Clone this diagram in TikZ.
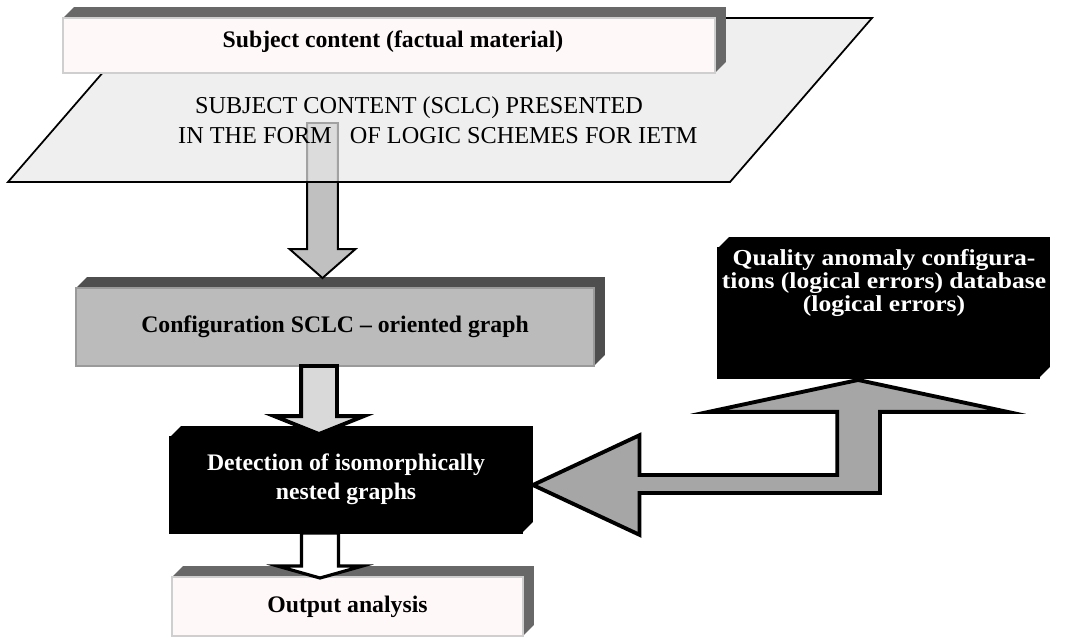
\documentclass[tikz,border=0pt]{standalone}
\usepackage{fontspec}
\setmainfont{Liberation Serif}
\newfontfamily\wideserif{Liberation Serif}[FakeStretch=1.12]
\usetikzlibrary{calc}

\newcommand{\pxl}{0.5669pt}
\definecolor{paperpink}{HTML}{FFF8F8}
\definecolor{rimgray}{HTML}{CFCFCF}
\definecolor{bandgray}{HTML}{686868}
\definecolor{confgray}{HTML}{BBBBBB}
\definecolor{confrim}{HTML}{9A9A9A}
\definecolor{confband}{HTML}{4E4E4E}
\definecolor{paragray}{HTML}{E8E8E8}
\definecolor{shaftone}{HTML}{C0C0C0}
\definecolor{shafttwo}{HTML}{D9D9D9}
\definecolor{bentgray}{HTML}{A6A6A6}

% depth of a 3D box: top band and right side, then the front rim again
\newcommand{\cubeside}[3]{%
  \fill[#2] (#1.north west) -- ++(11,-11) -- ([shift={(11,-11)}]#1.north east)
    -- ([shift={(11,-11)}]#1.south east) -- (#1.south east) -- (#1.north east) -- cycle;
  \draw[#3, line width=1.2pt] (#1.south west) rectangle (#1.north east);}

\begin{document}
\begin{tikzpicture}[x=0.02cm, y=-0.02cm,
  face/.style={rectangle, inner sep=0pt, outer sep=0pt, align=center,
    font=\fontsize{13.5}{16.5}\selectfont\bfseries},
  paleface/.style={face, fill=paperpink},
  greyface/.style={face, fill=confgray},
  blackface/.style={face, fill=black, text=white},
  downblock/.style n args={3}{to path={let \p1=(\tikztostart), \p2=(\tikztotarget) in
    (\x2-#1*\pxl,\y1) -- (\x2+#1*\pxl,\y1) -- (\x2+#1*\pxl,\y2+#3*\pxl)
    -- (\x2+#2*\pxl,\y2+#3*\pxl) -- (\p2) -- (\x2-#2*\pxl,\y2+#3*\pxl)
    -- (\x2-#1*\pxl,\y2+#3*\pxl) -- cycle}}]
  \useasboundingbox (0,0) rectangle (1070,637);

  % Database box
  \node[blackface, minimum width=6.42cm, minimum height=2.6cm] (qual) at (878.5,313) {};
  \cubeside{qual}{black}{black}
  \node[font=\wideserif\bfseries\fontsize{13}{11.6}\selectfont, text=white, align=center]
    (qual-text) at (884,283) {Quality anomaly configura-\\tions (logical errors) database\\(logical errors)};

  % Graph configuration
  \node[greyface, minimum width=10.36cm, minimum height=1.56cm] (conf) at (335,327)
    {Configuration SCLC – oriented graph};
  \cubeside{conf}{confband}{confrim}

  % Detection
  \node[blackface, minimum width=7.04cm, minimum height=1.92cm] (det) at (346,485) {};
  \cubeside{det}{black}{black}
  \node[face, text=white] (det-text) at (346,479) {Detection of isomorphically\\nested graphs};

  % Output
  \node[paleface, minimum width=7.02cm, minimum height=1.18cm] (out) at (347.5,606.5)
    {Output analysis};
  \cubeside{out}{bandgray}{rimgray}

  % Arrow under the scheme sheet
  \coordinate (a1-tail) at (322.5,123);
  \coordinate (a1-tip) at (322.5,278);
  \draw[line width=1.1pt, fill=shaftone, downblock={15.5}{33}{29}] (a1-tail) to (a1-tip);

  % Scheme sheet (parallelogram)
  \filldraw[line width=1pt, fill=paragray, fill opacity=0.7]
    (8,182) -- (730,182) -- (872,18) -- (150,18) -- cycle;

  % Subject content
  \node[paleface, minimum width=13.04cm, minimum height=1.1cm] (subj) at (389,45.5) {};
  \cubeside{subj}{bandgray}{rimgray}
  \node[face] (subj-text) at (393,42) {Subject content (factual material)};

  \node[font=\fontsize{13.8}{17}\selectfont, align=center] (para) at (419,120)
    {SUBJECT CONTENT (SCLC) PRESENTED\\\hspace*{21.5pt}IN THE FORM\ \ \ OF LOGIC SCHEMES FOR IETM};

  % Down arrows
  \coordinate (a2-tail) at (319,366);
  \coordinate (a2-tip) at (319,434);
  \draw[line width=2.2pt, fill=shafttwo, downblock={18}{45}{18}] (a2-tail) to (a2-tip);
  \coordinate (a3-tail) at (320,533);
  \coordinate (a3-tip) at (320,578);
  \draw[line width=1.8pt, fill=white, downblock={18.5}{42.5}{12}] (a3-tail) to (a3-tip);

  % Bent double arrow between detection and database
  \coordinate (bent-tip) at ([xshift=11*\pxl]det.east);
  \coordinate (bent-apex) at ([xshift=-20.5*\pxl, yshift=-2*\pxl]qual.south);
  \draw[line width=2.2pt, fill=bentgray] let \p1=(bent-tip), \p2=(bent-apex) in
    (\p1) -- (\x1+107*\pxl,\y1+50*\pxl) -- (\x1+107*\pxl,\y1+10*\pxl)
    -- (\x2-21*\pxl,\y1+10*\pxl) -- (\x2-21*\pxl,\y2-32*\pxl) -- (\x2-150*\pxl,\y2-32*\pxl)
    -- (\p2) -- (\x2+150*\pxl,\y2-32*\pxl) -- (\x2+22*\pxl,\y2-32*\pxl)
    -- (\x2+22*\pxl,\y1-8*\pxl) -- (\x1+107*\pxl,\y1-8*\pxl) -- (\x1+107*\pxl,\y1-50*\pxl) -- cycle;
\end{tikzpicture}
\end{document}
